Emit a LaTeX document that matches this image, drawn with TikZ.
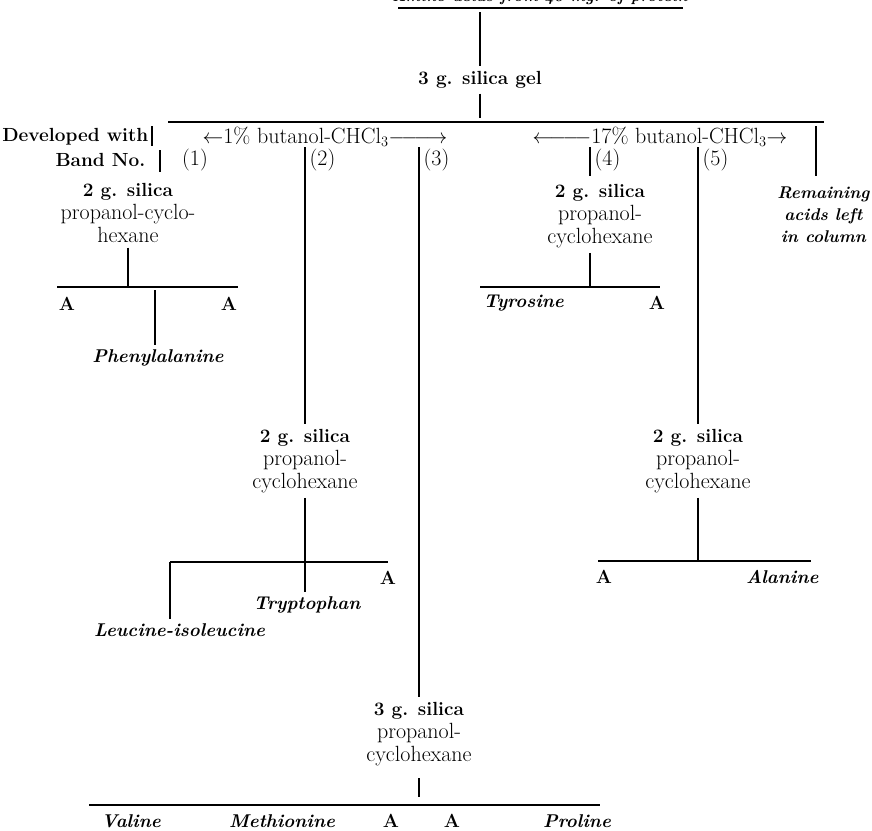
\documentclass[tikz,border=0pt]{standalone}
\usepackage{fontspec}
\usepackage{tikz}
\usepackage{xcolor}
\usetikzlibrary{positioning}

\newcommand\chartsize{\fontsize{22}{23}\selectfont}
\newcommand\headsize{\fontsize{19}{23}\selectfont}
\newcommand\acidsize{\fontsize{18.5}{22}\selectfont}

\tikzset{
  txt/.style={font=\chartsize, inner sep=1pt},
  hd/.style={font=\headsize\bfseries, inner sep=1pt},
  acid/.style={font=\acidsize\bfseries\itshape, inner sep=1pt},
  stack/.style={font=\chartsize, align=center, inner sep=1pt, outer sep=4pt},
}
\newcommand\silica[1]{{\headsize\bfseries #1 g. silica}}

\begin{document}
\begin{tikzpicture}[x=1pt,y=-1pt,line width=1.3pt]
\useasboundingbox (0,0) rectangle (872,830);

% sample and first column
\node[acid,font=\fontsize{16}{19}\selectfont\bfseries\itshape,anchor=base] (sample) at (540,1) {Amino acids from 40 mg. of protein};
\coordinate (topL) at (398,8); \coordinate (topR) at (683,8);
\draw (topL) -- (topR);
\node[hd,outer sep=4pt] (gel) at (480,80) {3 g. silica gel};
\draw (gel |- 0,12) -- (gel);
\coordinate (mainL) at (168,122); \coordinate (mainR) at (824,122);
\draw (gel) -- (gel |- 0,118);
\draw (mainL) -- (mainR);

% developing solvents
\node[hd,anchor=east] (dev) at (150,137) {Developed with};
\draw (152,126) -- (152,146);
\node[txt] (solA) at (325,137) {$\leftarrow$1\% butanol-CHCl$_3$$\relbar\joinrel\relbar\joinrel\longrightarrow$};
\node[txt] (solB) at (660,137) {$\longleftarrow\joinrel\relbar\joinrel\relbar$17\% butanol-CHCl$_3$$\rightarrow$};
\coordinate (remT) at (816,126);
\node[acid,font=\fontsize{17}{22}\selectfont\bfseries\itshape,align=center,anchor=east] (rem) at (871,215) {Remaining\\acids left\\in column};
\draw (remT) -- (remT |- 0,176);

% bands
\node[hd,anchor=east] (bandno) at (147,160) {Band No.};
\draw (160,150) -- (160,172);
\node[txt] (b1) at (195,160) {(1)};
\foreach \n/\x in {2/305,3/419,4/590,5/698}{
  \coordinate (c\n) at (\x,147);
  \node[txt,anchor=west] (b\n) at (\x+3,160) {(\n)};
}
\draw (c4) -- ++(0,29);

% band 1
\node[stack] (stk1) at (128,213) {\silica{2}\\propanol-cyclo-\\hexane};
\coordinate (j1) at (128,287);
\draw (stk1) -- (j1);
\draw (57,287) -- (238,287);
\node[hd] (a1) at (67,304) {A};
\node[hd] (a2) at (229,304) {A};
\coordinate (p1) at (155,290);
\node[acid,outer sep=4pt] (phe) at (158,358) {Phenylalanine};
\draw (p1) -- (p1 |- phe.north);

% band 4
\node[stack] (stk4) at (600,216) {\silica{2}\\propanol-\\cyclohexane};
\coordinate (j4) at (590,287);
\draw (j4 |- stk4.south) -- (j4);
\draw (480,287) -- (660,287);
\node[acid,anchor=west] (tyr) at (482,303) {Tyrosine};
\node[hd] (a3) at (657,303) {A};

% band 2
\node[stack] (stk2) at (305,461) {\silica{2}\\propanol-\\cyclohexane};
\draw (c2) -- (stk2);
\coordinate (j2) at (305,562);
\draw (stk2) -- (j2);
\coordinate (h2L) at (170,562); \coordinate (h2R) at (388,562);
\draw (h2L) -- (h2R);
\node[hd] (a4) at (388,578) {A};
\node[acid,outer sep=4pt] (trp) at (307,605) {Tryptophan};
\node[acid,anchor=east,outer sep=4pt] (leu) at (270,630) {Leucine-isoleucine};
\draw (j2) -- (j2 |- trp.north);
\draw (h2L) -- (h2L |- leu.north);

% band 5
\node[stack] (stk5) at (698,461) {\silica{2}\\propanol-\\cyclohexane};
\draw (c5) -- (stk5);
\coordinate (j5) at (698,561);
\draw (stk5) -- (j5);
\draw (598,561) -- (811,561);
\node[hd] (a5) at (604,577) {A};
\node[acid,anchor=east] (ala) at (820,577) {Alanine};

% band 3
\node[stack] (stk3) at (419,734) {\silica{3}\\propanol-\\cyclohexane};
\draw (c3) -- (stk3);
\coordinate (j3) at (419,797);
\draw (j3 |- 0,778) -- (j3);
\draw (89,805) -- (600,805);
\foreach \x/\t/\n in {131/Valine/val,282/Methionine/met,577/Proline/pro}
  \node[acid] (\n) at (\x,821) {\t};
\node[hd] (a6) at (391,821) {A};
\node[hd] (a7) at (452,821) {A};
\end{tikzpicture}
\end{document}
